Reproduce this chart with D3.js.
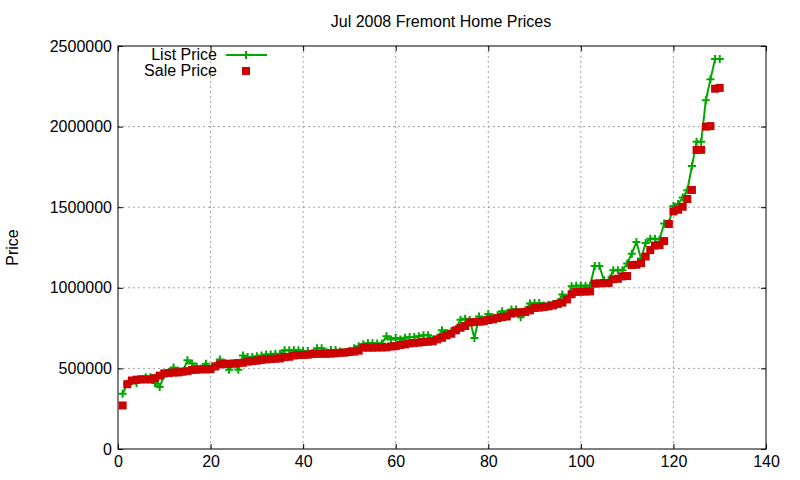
<!DOCTYPE html>
<html>
<head>
<meta charset="utf-8">
<script src="https://cdn.jsdelivr.net/npm/d3@7"></script>
<style>
  body { margin: 0; background: #fff; }
  text { font-family: "Liberation Sans", Arial, sans-serif; }
</style>
</head>
<body>
<div id="chart-area"></div>
<script>

// house index, 1..130 (sorted by sale price)
var listPrice = [
  343000, 405000, 420000, 410000, 435000, 445000, 445000, 409000, 384000, 460000,
  478000, 505000, 485000, 480000, 550000, 530000, 510000, 500000, 529000, 500000,
  515000, 555000, 535000, 492000, 530000, 492000, 580000, 570000, 570000, 575000,
  580000, 586000, 586000, 591000, 590000, 612000, 612000, 612000, 612000, 608000,
  608000, 595000, 625000, 625000, 600000, 614000, 614000, 605000, 600000, 610000,
  625000, 637000, 650000, 656000, 656000, 655000, 655000, 700000, 680000, 688000,
  680000, 690000, 695000, 695000, 700000, 706000, 706000, 680000, 690000, 736000,
  720000, 730000, 745000, 802000, 808000, 800000, 688000, 822000, 800000, 838000,
  815000, 830000, 855000, 840000, 865000, 866000, 818000, 860000, 903000, 905000,
  905000, 890000, 895000, 900000, 910000, 958000, 935000, 1010000, 1013000, 1013000,
  1012000, 1015000, 1135000, 1135000, 1047000, 1047000, 1109000, 1109000, 1109000, 1150000,
  1212000, 1284000, 1181000, 1278000, 1305000, 1305000, 1300000, 1399000, 1400000, 1508000,
  1520000, 1560000, 1605000, 1755000, 1906000, 1906000, 2164000, 2293000, 2420000, 2420000
];

var salePrice = [
  270000, 402000, 425000, 430000, 432000, 432000, 432000, 440000, 455000, 469000,
  472000, 475000, 475000, 480000, 483000, 490000, 492000, 494000, 494000, 495000,
  512000, 525000, 528000, 529000, 530000, 533000, 535000, 542000, 545000, 548000,
  553000, 556000, 558000, 560000, 562000, 570000, 572000, 580000, 583000, 583000,
  585000, 590000, 591000, 591000, 591000, 592000, 594000, 597000, 598000, 602000,
  604000, 610000, 629000, 629000, 629000, 630000, 630000, 631000, 636000, 638000,
  645000, 649000, 655000, 658000, 660000, 664000, 666000, 668000, 680000, 690000,
  705000, 715000, 736000, 752000, 763000, 785000, 788000, 790000, 792000, 800000,
  804000, 812000, 818000, 822000, 840000, 846000, 848000, 850000, 860000, 875000,
  877000, 881000, 885000, 891000, 900000, 908000, 928000, 960000, 975000, 976000,
  977000, 978000, 1026000, 1028000, 1029000, 1030000, 1053000, 1056000, 1071000, 1073000,
  1141000, 1143000, 1153000, 1194000, 1234000, 1262000, 1265000, 1290000, 1396000, 1474000,
  1484000, 1503000, 1551000, 1607000, 1855000, 1856000, 2000000, 2003000, 2235000, 2240000
];

var xTicks = [0, 20, 40, 60, 80, 100, 120, 140];
var yTicks = [0, 500000, 1000000, 1500000, 2000000, 2500000];
var seriesNames = ["List Price", "Sale Price"];

var listColor = "#00a800";
var saleColor = "#cc0000";
var fontSize = "16px";

var margin = {left : 118, right : 34, top : 46, bottom : 31};
var width = 800 - margin.left - margin.right;
var height = 480 - margin.top - margin.bottom;

var svg = d3.select("#chart-area")
  .append("svg")
  .attr("width", 800)
  .attr("height", 480);

var g = svg.append("g")
  .attr("transform", "translate(" + margin.left + ", " + margin.top + ")");

var x = d3.scaleLinear().domain([0, 140]).range([0, width]);
var y = d3.scaleLinear().domain([0, 2500000]).range([height, 0]);

var data = listPrice.map((d, i) => {
  return {n : i + 1, list : d, sale : salePrice[i]};
});

// grid
g.append("g").selectAll("line")
  .data(xTicks.slice(1, -1))
  .enter().append("line")
  .attr("x1", d => x(d)).attr("x2", d => x(d))
  .attr("y1", 0).attr("y2", height)
  .attr("stroke", "#a0a0a0")
  .attr("stroke-dasharray", "2,3");

g.append("g").selectAll("line")
  .data(yTicks.slice(1, -1))
  .enter().append("line")
  .attr("y1", d => y(d)).attr("y2", d => y(d))
  .attr("x1", 0).attr("x2", width)
  .attr("stroke", "#a0a0a0")
  .attr("stroke-dasharray", "2,3");

// axes, ticks pointing inward, mirrored
var xAxisGroup = g.append("g")
  .attr("transform", "translate(0," + height + ")")
  .call(d3.axisBottom(x).tickValues(xTicks).tickSize(-5).tickFormat(d3.format("d")));

var yAxisGroup = g.append("g")
  .call(d3.axisLeft(y).tickValues(yTicks).tickSize(-5).tickFormat(d3.format("d")));

g.append("g")
  .call(d3.axisTop(x).tickValues(xTicks).tickSize(-5).tickFormat(""));
g.append("g")
  .attr("transform", "translate(" + width + ",0)")
  .call(d3.axisRight(y).tickValues(yTicks).tickSize(-5).tickFormat(""));

g.selectAll(".domain").remove();
g.selectAll(".tick line").attr("stroke", "#000");

xAxisGroup.selectAll("text")
  .attr("y", 7)
  .attr("font-size", fontSize)
  .attr("fill", "#000");

yAxisGroup.selectAll("text")
  .attr("x", -6)
  .attr("font-size", fontSize)
  .attr("fill", "#000");

g.append("rect")
  .attr("width", width)
  .attr("height", height)
  .attr("fill", "none")
  .attr("stroke", "#000");

// title + label
svg.append("text")
  .attr("x", 441)
  .attr("y", 27)
  .attr("text-anchor", "middle")
  .attr("font-size", fontSize)
  .text("Jul 2008 Fremont Home Prices");

svg.append("text")
  .attr("transform", "translate(18," + (margin.top + height / 2) + ") rotate(-90)")
  .attr("text-anchor", "middle")
  .attr("font-size", fontSize)
  .text("Price");

// list price: line + crosses
var line = d3.line().x(d => x(d.n)).y(d => y(d.list));

g.append("path")
  .datum(data)
  .attr("d", line)
  .attr("fill", "none")
  .attr("stroke", listColor)
  .attr("stroke-width", 2);

var cross = "M-4,0H4M0,-4V4";

g.selectAll(".list-pt")
  .data(data)
  .enter().append("path")
  .attr("class", "list-pt")
  .attr("transform", d => "translate(" + x(d.n) + "," + y(d.list) + ")")
  .attr("d", cross)
  .attr("stroke", listColor)
  .attr("stroke-width", 2);

// sale price: filled squares
g.selectAll(".sale-pt")
  .data(data)
  .enter().append("rect")
  .attr("class", "sale-pt")
  .attr("x", d => x(d.n) - 4)
  .attr("y", d => y(d.sale) - 4)
  .attr("width", 8)
  .attr("height", 8)
  .attr("fill", saleColor);

// legend
var legend = svg.append("g").attr("transform", "translate(217,0)");

seriesNames.forEach((s, i) => {
  var row = legend.append("g").attr("transform", "translate(0," + (55 + i * 16) + ")");
  row.append("text")
    .attr("x", 0)
    .attr("y", 5)
    .attr("text-anchor", "end")
    .attr("font-size", fontSize)
    .text(s);
  if (i == 0) {
    row.append("line")
      .attr("x1", 9).attr("x2", 50)
      .attr("stroke", listColor)
      .attr("stroke-width", 2);
    row.append("path")
      .attr("transform", "translate(29,0)")
      .attr("d", cross)
      .attr("stroke", listColor)
      .attr("stroke-width", 2);
  } else {
    row.append("rect")
      .attr("x", 25).attr("y", -4)
      .attr("width", 8).attr("height", 8)
      .attr("fill", saleColor);
  }
});

</script>
</body>
</html>
